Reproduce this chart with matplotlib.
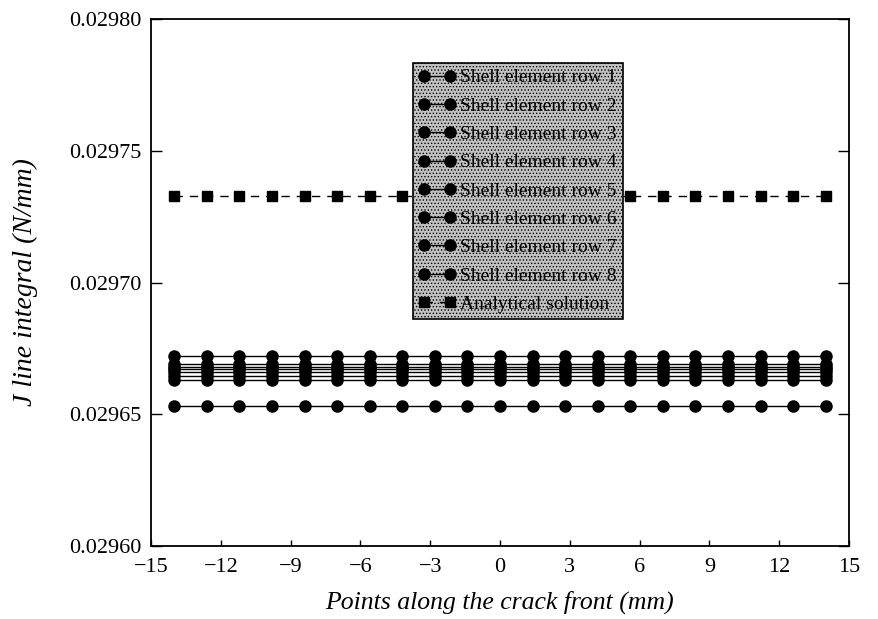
import numpy as np
import matplotlib
matplotlib.use("Agg")
import matplotlib.pyplot as plt

x_points = [-14.0, -12.6, -11.2, -9.8, -8.4, -7.0, -5.6, -4.2, -2.8, -1.4, 0.0,
            1.4, 2.8, 4.2, 5.6, 7.0, 8.4, 9.8, 11.2, 12.6, 14.0]
row_labels = ["Shell element row 1", "Shell element row 2", "Shell element row 3",
              "Shell element row 4", "Shell element row 5", "Shell element row 6",
              "Shell element row 7", "Shell element row 8"]
row_values = [0.0296530, 0.0296630, 0.0296645, 0.0296660, 0.0296670,
              0.0296680, 0.0296690, 0.0296720]
analytical_value = 0.0297330
y_ticks = [0.02960, 0.02965, 0.02970, 0.02975, 0.02980]
x_ticks = [-15, -12, -9, -6, -3, 0, 3, 6, 9, 12, 15]

plt.rcParams['font.family'] = ['Liberation Serif', 'DejaVu Serif']
plt.rcParams['hatch.linewidth'] = 0.6

W, H = 879, 619
fig = plt.figure(figsize=(W / 100, H / 100), dpi=100)
ax = fig.add_axes([151 / W, (H - 546) / H, 698 / W, 527 / H])

n = len(x_points)
for lab, v in zip(row_labels, row_values):
    ax.plot(x_points, [v] * n, color='black', lw=1.0, marker='o', ms=8,
            markerfacecolor='black', markeredgecolor='black', label=lab)
ax.plot(x_points, [analytical_value] * n, color='black', lw=1.0, ls=(0, (6, 5)),
        marker='s', ms=6.5, label='Analytical solution')

ax.set_xlim(-15, 15)
ax.set_ylim(0.02960, 0.02980)
ax.set_xticks(x_ticks)
ax.set_xticklabels([("\u2212%d" % -t) if t < 0 else str(t) for t in x_ticks])
ax.set_yticks(y_ticks)
ax.set_yticklabels(["%.5f" % t for t in y_ticks])
ax.tick_params(axis='y', direction='in', length=8, width=1, right=True,
               labelsize=16, pad=7)
ax.tick_params(axis='x', direction='in', length=4, width=1, labelsize=16, pad=9)
for s in ax.spines.values():
    s.set_linewidth(1.3)

ax.set_xlabel("Points along the crack front (mm)", fontsize=18.5, style='italic',
              va='center')
ax.xaxis.set_label_coords(0.5, (546 - 602) / 527)
ax.set_ylabel("J line integral (N/mm)", fontsize=20, style='italic', va='center')
ax.yaxis.set_label_coords((25 - 151) / 698, 0.5)

leg = ax.legend(loc='upper left', bbox_to_anchor=(0.375, 0.9165), fontsize=14,
                frameon=True, fancybox=False, framealpha=1, edgecolor='black',
                facecolor='#c2c2c2', handlelength=1.9, handletextpad=0.25,
                borderpad=0.3, labelspacing=0.55, borderaxespad=0, numpoints=2)
fr = leg.get_frame()
fr.set_linewidth(1.2)
fr.set_hatch('.....')

fig.savefig("out.png", dpi=100)
